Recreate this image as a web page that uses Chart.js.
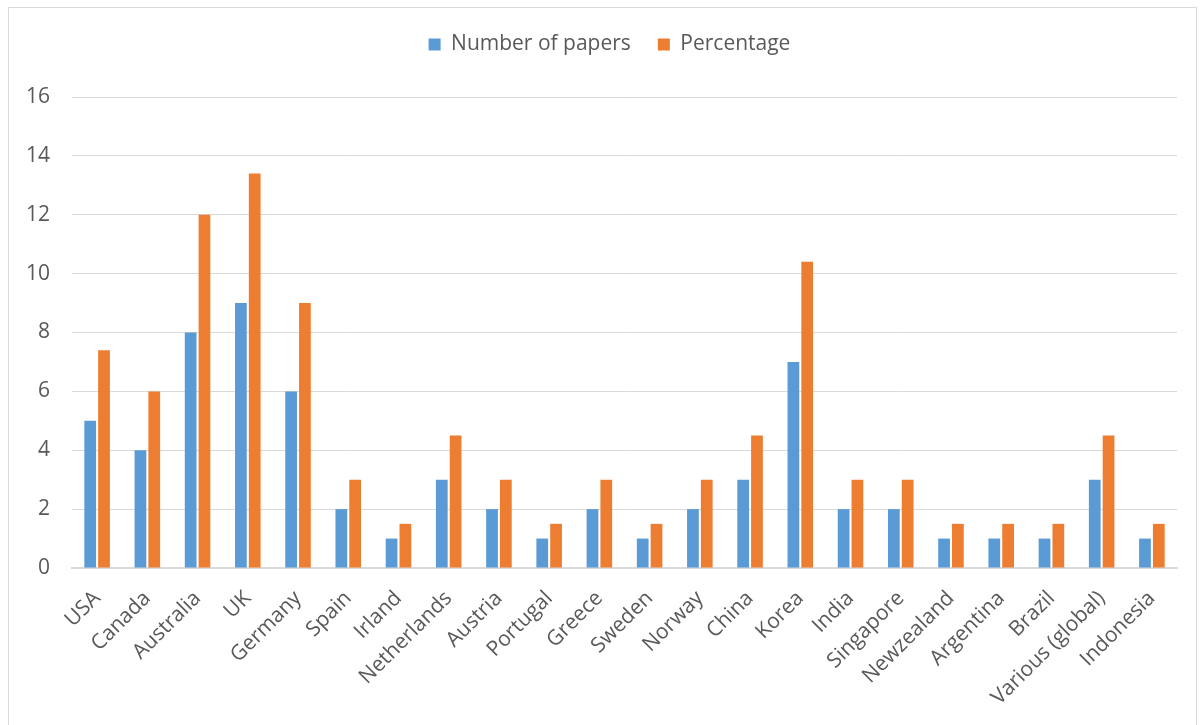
<!DOCTYPE html>
<html>
<head>
<meta charset="utf-8">
<script src="https://cdn.jsdelivr.net/npm/chart.js@4/dist/chart.umd.min.js"></script>
<style>
  html, body { margin: 0; padding: 0; background: #fff; overflow: hidden; }
  #frame { position: absolute; left: 8px; top: 7px; width: 1189px; height: 740px; border: 1px solid #d9d9d9; box-sizing: border-box; }
  #wrap { position: absolute; left: 0; top: 0; width: 1204px; height: 725px; }
</style>
</head>
<body>
<div id="frame"></div>
<div id="wrap"><canvas id="chart" width="1204" height="725"></canvas></div>
<script>
// Papers per country and their share of the total (%)
const countries = ["USA", "Canada", "Australia", "UK", "Germany", "Spain", "Irland", "Netherlands",
  "Austria", "Portugal", "Greece", "Sweden", "Norway", "China", "Korea", "India", "Singapore",
  "Newzealand", "Argentina", "Brazil", "Various (global)", "Indonesia"];
const numberOfPapers = [5, 4, 8, 9, 6, 2, 1, 3, 2, 1, 2, 1, 2, 3, 7, 2, 2, 1, 1, 1, 3, 1];
const percentage = [7.4, 6, 12, 13.4, 9, 3, 1.5, 4.5, 3, 1.5, 3, 1.5, 3, 4.5, 10.4, 3, 3, 1.5, 1.5, 1.5, 4.5, 1.5];
const yTicks = [0, 2, 4, 6, 8, 10, 12, 14, 16];

const textColor = "#595959";
const gridColor = "#d9d9d9";
const fontFamily = "'Open Sans', 'Noto Sans', sans-serif";

// Reserve a fixed band above the plot for the legend, centred on the frame
const legendBand = {
  id: "legendBand",
  afterInit(chart) {
    const legend = chart.legend;
    if (!legend) return;
    const fit = legend.fit.bind(legend);
    legend.fit = function () { fit(); this.height = 90; };
  },
  afterLayout(chart) {
    const legend = chart.legend;
    if (!legend) return;
    legend.left += 21;
    legend.right += 21;
  }
};

new Chart(document.getElementById("chart"), {
  type: "bar",
  data: {
    labels: countries,
    datasets: [
      { label: "Number of papers", data: numberOfPapers, backgroundColor: "#5b9bd5",
        categoryPercentage: 0.55, barPercentage: 0.85 },
      { label: "Percentage", data: percentage, backgroundColor: "#ed7d31",
        categoryPercentage: 0.55, barPercentage: 0.85 }
    ]
  },
  plugins: [legendBand],
  options: {
    responsive: false,
    animation: false,
    layout: { padding: { left: 0, right: 27, top: 7, bottom: 0 } },
    plugins: {
      tooltip: { enabled: false },
      legend: {
        position: "top",
        labels: {
          color: textColor,
          font: { family: fontFamily, size: 21 },
          boxWidth: 12, boxHeight: 12, padding: 27
        }
      }
    },
    scales: {
      x: {
        grid: { display: false, drawTicks: false },
        border: { display: true, color: gridColor, width: 2 },
        ticks: {
          color: textColor, font: { family: fontFamily, size: 21 },
          minRotation: 45, maxRotation: 45, autoSkip: false, padding: 18
        },
        afterFit: (s) => { s.height = 157; }
      },
      y: {
        min: 0, max: 16,
        afterBuildTicks: (s) => { s.ticks = yTicks.map(v => ({ value: v })); },
        grid: { color: gridColor, lineWidth: 1, drawTicks: false },
        border: { display: false },
        ticks: { color: textColor, font: { family: fontFamily, size: 21 }, padding: 22 },
        afterFit: (s) => { s.width = 72; }
      }
    }
  }
});
</script>
</body>
</html>
